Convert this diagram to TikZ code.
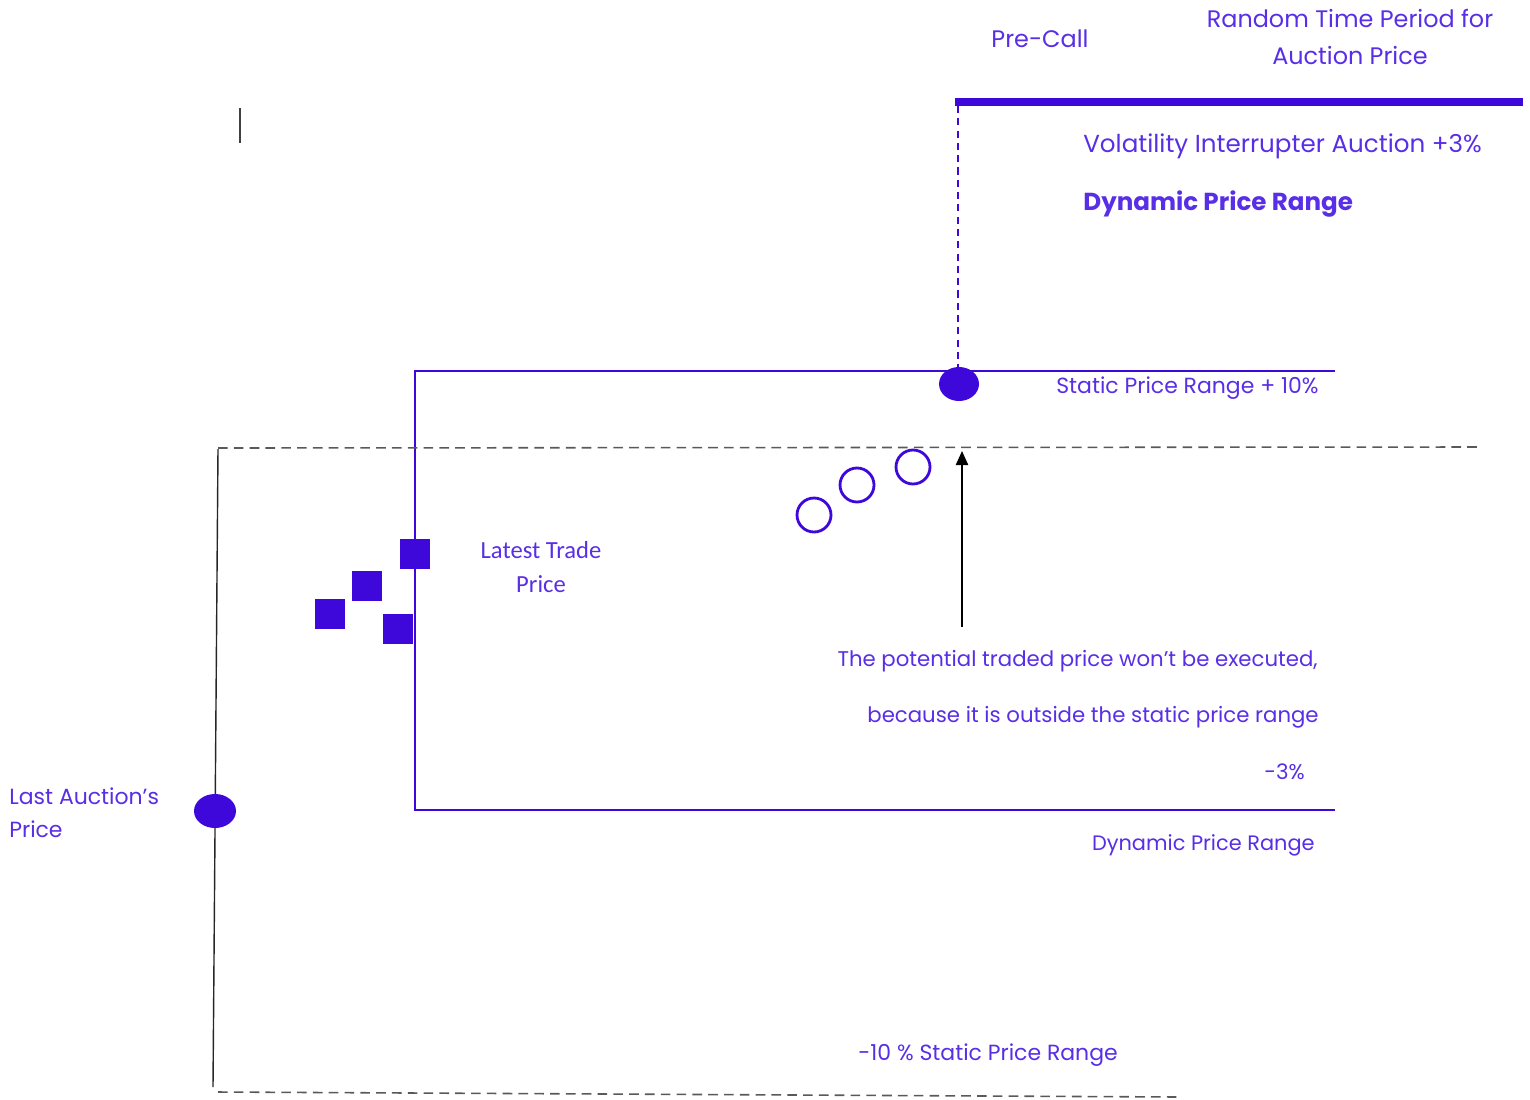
\documentclass[tikz,border=0pt]{standalone}
\usepackage{fontspec}
\setmainfont{Poppins}
\newfontfamily\calfont{Carlito}
\usetikzlibrary{arrows.meta}
\definecolor{vil}{RGB}{61,8,217}
\definecolor{viltext}{RGB}{88,46,230}
\tikzset{
  lbl/.style={text=viltext,font=\fontsize{12.5}{15}\selectfont,inner sep=0pt},
  toplbl/.style={lbl,font=\fontsize{13.6}{16}\selectfont},
  notelbl/.style={lbl,anchor=east,font=\fontsize{12.1}{15}\selectfont},
  rangeline/.style={vil,line width=1pt},
  priceline/.style={black!65,dash pattern=on 5.5pt off 3.5pt,line width=0.9pt},
  trade/.style={fill=vil},
}
\begin{document}
\begin{tikzpicture}[x=0.02cm,y=-0.02cm]
\useasboundingbox (0,0) rectangle (1530,1099);
\draw[vil,line width=4.5pt] (955,102) -- (1523,102);            % pre-call bar
\draw[vil,dash pattern=on 4pt off 3pt,line width=0.8pt] (958,106) -- (958,372); % call marker
\draw[black!75,line width=1pt] (240,108) -- (240,143);
\draw[rangeline] (1335,371) -- (415,371) -- (415,810) -- (1335,810); % static / dynamic range
\draw[priceline] (218,448) -- (1480,447);                        % upper limit
\draw[priceline] (218,1092) -- (1180,1097);                      % lower limit
\draw[black!85,line width=0.8pt] (218,449) -- (213,1087);        % price axis
\fill[vil] (959,384) ellipse [x radius=20,y radius=17];
\fill[vil] (215,811) ellipse [x radius=21,y radius=17];
\foreach \cx/\cy in {814/515,857/485,913/467}
  \draw[vil,line width=1.6pt] (\cx,\cy) circle (17);             % potential trades
\fill[trade] (400,539) rectangle (430,569);
\fill[trade] (352,571) rectangle (382,601);
\fill[trade] (315,599) rectangle (345,629);
\fill[trade] (383,614) rectangle (413,644);
\draw[-{Triangle[length=8pt,width=7pt]},line width=0.8pt] (962,627) -- (962,451);
\node[toplbl] (precall) at (1040,39) {Pre-Call};
\node[toplbl,align=center] (random) at (1350,37) {Random Time Period for\\[5pt]Auction Price};
\node[toplbl,anchor=west,font=\fontsize{14}{16}\selectfont] (vola) at (1083,146) {Volatility Interrupter Auction +3\%};
\node[toplbl,anchor=west,font=\fontsize{14}{16}\selectfont\bfseries] (dynbold) at (1083,204) {Dynamic Price Range};
\node[lbl,anchor=east] (staticup) at (1319,388) {Static Price Range + 10\%};
\node[lbl,align=center,font=\calfont\fontsize{14}{19}\selectfont] (latest) at (541,567) {Latest Trade\\Price};
\node[notelbl] (note1) at (1318,661) {The potential traded price won’t be executed,};
\node[notelbl] (note2) at (1319,717) {because it is outside the static price range};
\node[notelbl] (note3) at (1305,772) {-3\%};
\node[notelbl,font=\fontsize{11.9}{15}\selectfont] (dynlow) at (1315,845) {Dynamic Price Range};
\node[lbl,align=left,anchor=west] (lastauct) at (9,813) {Last Auction’s\\[4pt]Price};
\node[lbl] (staticlow) at (988,1055) {-10 \% Static Price Range};
\end{tikzpicture}
\end{document}
